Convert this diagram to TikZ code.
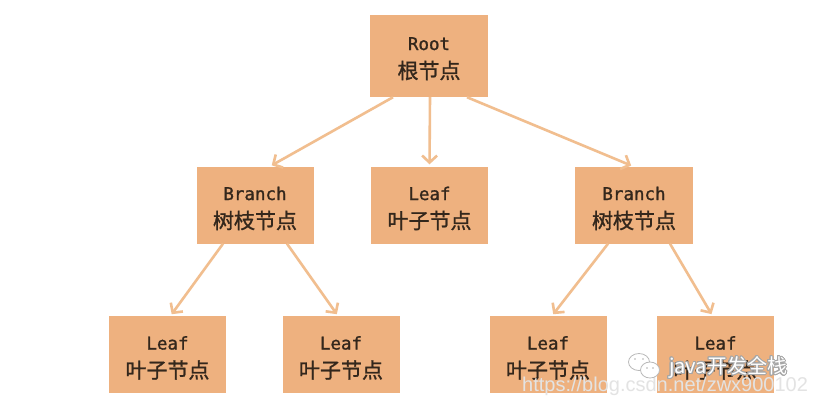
\documentclass[tikz,border=0pt]{standalone}
\usepackage{fontspec}
\setmainfont{Liberation Sans}
\newfontfamily\cjkfont[FakeBold=1.2]{Noto Sans CJK SC}
\newfontfamily\wmfont{Noto Sans CJK SC}
\newfontfamily\monofont[FakeBold=1.2]{DejaVu Sans Mono}
\usepackage{contour}
\contourlength{0.9pt}
\usetikzlibrary{arrows.meta}
\definecolor{boxfill}{HTML}{EEB17F}
\definecolor{arrowc}{HTML}{F1BE8F}
\definecolor{txt}{HTML}{33271C}
\begin{document}
\begin{tikzpicture}[x=1bp,y=-1bp,
  box/.style={fill=boxfill, draw=none, minimum width=117bp, minimum height=77bp, inner sep=0pt},
  lat/.style={anchor=base, font=\monofont\fontsize{17.5bp}{20bp}\selectfont, text=txt, inner sep=0pt},
  han/.style={anchor=base, font=\cjkfont\fontsize{21bp}{24bp}\selectfont, text=txt, inner sep=0pt},
  link/.style={draw=arrowc, line width=2.6bp, -{Straight Barb[length=7bp,width=15bp,line width=2.6bp]}, shorten >=2bp},
  wm/.style={anchor=base west, inner sep=0pt, font=\wmfont\fontsize{20bp}{22bp}\selectfont}]
\useasboundingbox (0,0) rectangle (815,403);
\fill[white] (0,0) rectangle (815,403);

% boxes
\node[box, minimum width=118bp, minimum height=82bp] (root) at (429,56) {};
\node[box] (bl) at (255,205) {};
\node[box] (lm) at (429.5,205) {};
\node[box, minimum width=118bp] (br) at (634,205) {};
\node[box] (l1) at (167.5,354.5) {};
\node[box] (l2) at (341,354.5) {};
\node[box] (l3) at (548,354.5) {};
\node[box] (l4) at (715.5,354.5) {};

% labels
\node[lat] (rootA) at ([yshift=6bp]root.center) {Root};
\node[han] (rootB) at ([yshift=-22.5bp]root.center) {根节点};
\node[lat] (blA) at ([yshift=5bp]bl.center) {Branch};
\node[han] (blB) at ([yshift=-23.5bp]bl.center) {树枝节点};
\node[lat] (lmA) at ([yshift=5bp]lm.center) {Leaf};
\node[han] (lmB) at ([yshift=-23.5bp]lm.center) {叶子节点};
\node[lat] (brA) at ([yshift=5bp]br.center) {Branch};
\node[han] (brB) at ([yshift=-23.5bp]br.center) {树枝节点};
\node[lat] (l1A) at ([yshift=5bp]l1.center) {Leaf};
\node[han] (l1B) at ([yshift=-23.5bp]l1.center) {叶子节点};
\node[lat] (l2A) at ([yshift=5bp]l2.center) {Leaf};
\node[han] (l2B) at ([yshift=-23.5bp]l2.center) {叶子节点};
\node[lat] (l3A) at ([yshift=5bp]l3.center) {Leaf};
\node[han] (l3B) at ([yshift=-23.5bp]l3.center) {叶子节点};
\node[lat] (l4A) at ([yshift=5bp]l4.center) {Leaf};
\node[han] (l4B) at ([yshift=-23.5bp]l4.center) {叶子节点};

% connectors
\draw[link] ([xshift=-36bp]root.south) -- ([xshift=15bp]bl.north);
\draw[link] ([xshift=1bp]root.south) -- (lm.north);
\draw[link] ([xshift=38bp]root.south) -- ([xshift=-1bp]br.north);
\draw[link] ([xshift=-32bp]bl.south) -- ([xshift=3bp]l1.north);
\draw[link] ([xshift=32bp]bl.south) -- ([xshift=-3bp]l2.north);
\draw[link] ([xshift=-26bp]br.south) -- ([xshift=4bp]l3.north);
\draw[link] ([xshift=36bp]br.south) -- ([xshift=-3bp]l4.north);

% watermark
\node[anchor=base west, inner sep=0pt, text=gray!22, font=\fontsize{20bp}{22bp}\selectfont] (url) at (522,391.5) {https://blog.csdn.net/zwx900102};
\draw[gray!55, fill=white, line width=0.8bp] (639,362) ellipse (10.5bp and 8.5bp);
\draw[gray!55, fill=white, line width=0.8bp] (650,370) ellipse (9.5bp and 8bp);
\fill[gray!60] (635,359) circle (0.9bp) (643,359) circle (0.9bp) (647,368) circle (0.9bp) (653,368) circle (0.9bp);
\node[wm, text=white] (wmtext) at (669,373.5) {\contour{gray!70}{java开发全栈}};
\end{tikzpicture}
\end{document}
